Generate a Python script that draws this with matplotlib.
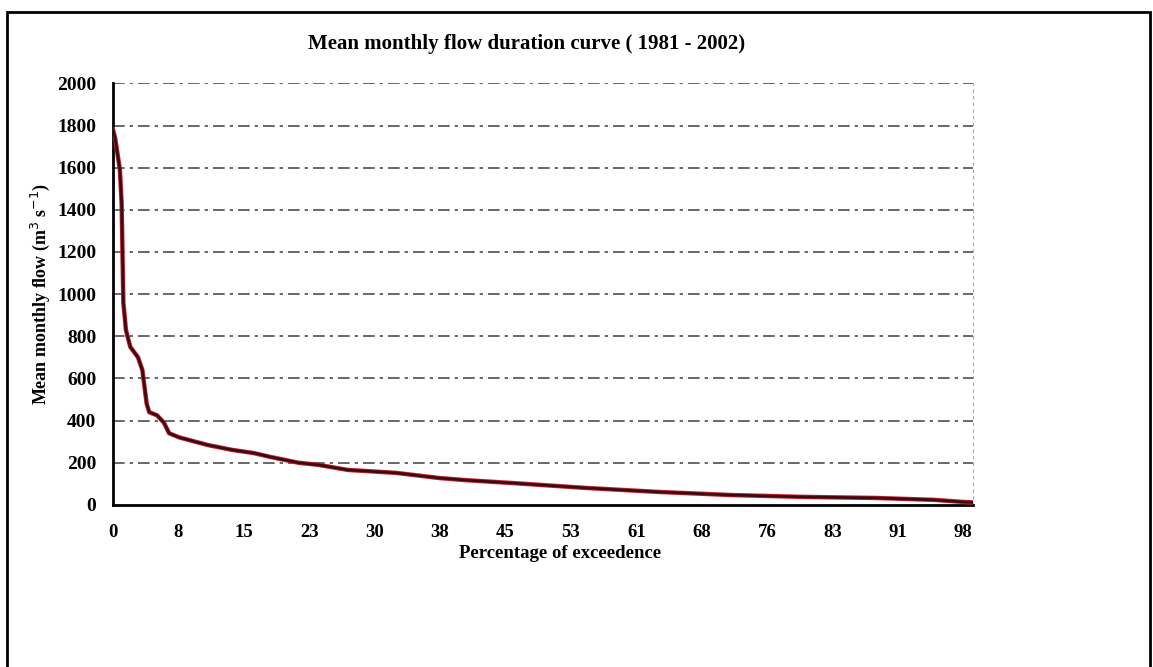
import matplotlib.pyplot as plt
from matplotlib.patches import Rectangle

# flow duration curve: % exceedence vs mean monthly flow
pct = [0.0, 0.25, 0.8, 1.0, 1.2, 1.5, 2.0, 2.9, 3.4, 3.9, 4.2, 5.1, 5.9, 6.5,
       7.7, 8.8, 11.0, 13.8, 16.3, 18.3, 21.5, 23.8, 27.2, 32.8, 37.7, 40.7,
       46.2, 49.5, 54.6, 63.0, 71.5, 80.0, 88.4, 95.1, 98.5, 99.6]
flow = [1780, 1740, 1590, 1430, 960, 830, 750, 700, 640, 480, 440, 425, 390, 340,
        320, 308, 284, 261, 246, 227, 200, 190, 166, 152, 128, 118,
        104, 95, 81, 62, 47, 38, 33, 24, 14, 12]

# Excel category axis: 264 months, a label every 20 months
n_months = 264
label_step = 20
xtick_labels = ['0', '8', '15', '23', '30', '38', '45', '53', '61', '68', '76', '83', '91', '98']
yticks = [0, 200, 400, 600, 800, 1000, 1200, 1400, 1600, 1800, 2000]

plt.rcParams['font.family'] = ['Liberation Serif', 'DejaVu Serif']

fig = plt.figure(figsize=(11.53, 6.67), dpi=100)
ax = fig.add_axes([0.098, 0.243, 0.746, 0.632])

ax.plot(pct, flow, color='#c0202e', lw=3.2, solid_joinstyle='round', zorder=3)
ax.plot(pct, flow, color='#3a0a10', lw=1.9, solid_joinstyle='round', zorder=4)

ax.set_ylim(0, 2000)
ax.set_xlim(0, (n_months - 1) / n_months * 100)
ax.set_yticks(yticks)
ax.set_yticklabels([str(v) for v in yticks], fontsize=14, fontweight='bold')
xt = [i * label_step / n_months * 100 for i in range(len(xtick_labels))]
ax.set_xticks(xt)
ax.set_xticklabels(xtick_labels, fontsize=13.5, fontweight='bold')
ax.tick_params(axis='x', length=0, pad=14)
ax.tick_params(axis='y', length=0, pad=12)

for v in yticks[1:]:
    ax.axhline(v, color='#222222', lw=1.2, ls=(0, (7, 3, 2, 3)), alpha=0.8, zorder=1)

ax.spines['top'].set_visible(False)
ax.spines['right'].set_color('#aaaaaa')
ax.spines['right'].set_linestyle((0, (2, 4)))
ax.spines['left'].set_linewidth(2)
ax.spines['bottom'].set_linewidth(2)

fig.text(0.457, 1 - 44 / 667, 'Mean monthly flow duration curve ( 1981 - 2002)',
         fontsize=15, fontweight='bold', ha='center', va='center')
ax.set_xlabel('Percentage of exceedence', fontsize=13.5, fontweight='bold')
ax.xaxis.set_label_coords(0.52, -0.095)
ax.set_ylabel('Mean monthly flow (m$^3$ s$^{-1}$)', fontsize=13, fontweight='bold', labelpad=4)

# outer frame of the scanned page
fig.patches.append(Rectangle((7 / 1153, -0.05), 1143 / 1153, 1.05 - 12 / 667,
                             transform=fig.transFigure, fill=False,
                             edgecolor='black', lw=2))

fig.savefig('out.png', dpi=100, facecolor='white')
